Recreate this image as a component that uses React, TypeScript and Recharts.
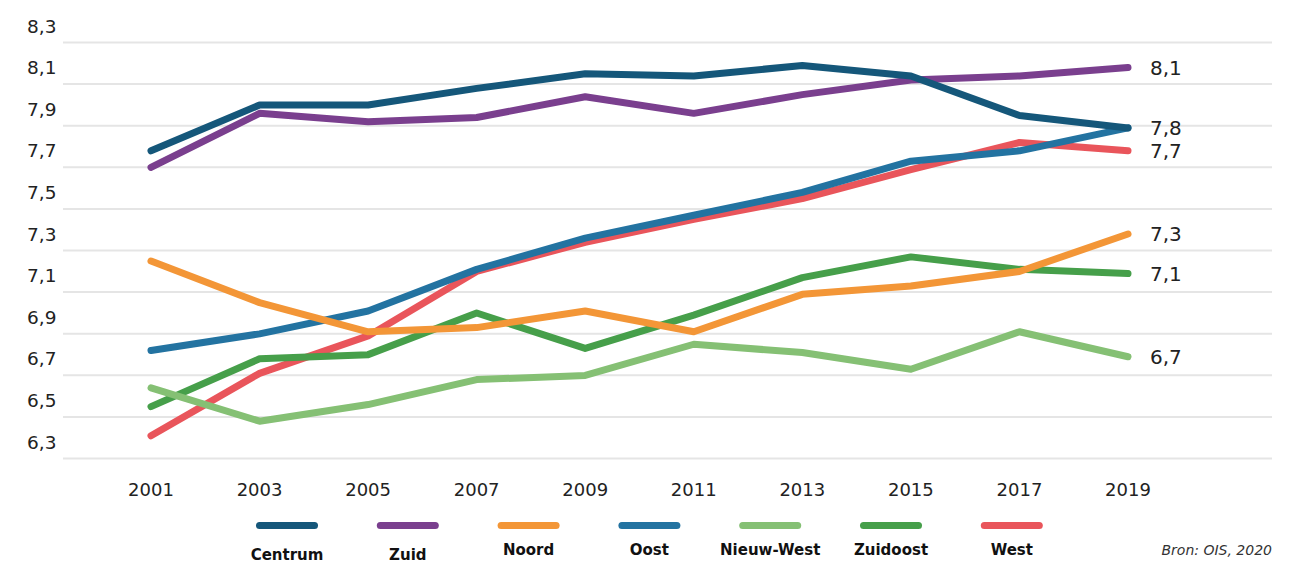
import React from 'react';
import { LineChart, Line, XAxis, YAxis, CartesianGrid } from 'recharts';

const years = ['2001', '2003', '2005', '2007', '2009', '2011', '2013', '2015', '2017', '2019'];

const centrum = [7.7, 7.92, 7.92, 8.0, 8.07, 8.06, 8.11, 8.06, 7.87, 7.81];
const zuid = [7.62, 7.88, 7.84, 7.86, 7.96, 7.88, 7.97, 8.04, 8.06, 8.1];
const noord = [7.17, 6.97, 6.83, 6.85, 6.93, 6.83, 7.01, 7.05, 7.12, 7.3];
const oost = [6.74, 6.82, 6.93, 7.13, 7.28, 7.39, 7.5, 7.65, 7.7, 7.81];
const nieuwWest = [6.56, 6.4, 6.48, 6.6, 6.62, 6.77, 6.73, 6.65, 6.83, 6.71];
const zuidoost = [6.47, 6.7, 6.72, 6.92, 6.75, 6.91, 7.09, 7.19, 7.13, 7.11];
const west = [6.33, 6.63, 6.81, 7.12, 7.26, 7.37, 7.47, 7.61, 7.74, 7.7];

const yTicks = [6.3, 6.5, 6.7, 6.9, 7.1, 7.3, 7.5, 7.7, 7.9, 8.1, 8.3];

// legend order; drawn in reverse so Centrum sits on top
const series = [
  { key: 'centrum', name: 'Centrum', values: centrum, color: '#15577a', endLabel: true },
  { key: 'zuid', name: 'Zuid', values: zuid, color: '#7a3f8e', endLabel: true },
  { key: 'noord', name: 'Noord', values: noord, color: '#f39637', endLabel: true },
  { key: 'oost', name: 'Oost', values: oost, color: '#2373a1', endLabel: false },
  { key: 'nieuwWest', name: 'Nieuw-West', values: nieuwWest, color: '#85c074', endLabel: true },
  { key: 'zuidoost', name: 'Zuidoost', values: zuidoost, color: '#469f4a', endLabel: true },
  { key: 'west', name: 'West', values: west, color: '#e9555b', endLabel: true },
];

const data = years.map((year, i) => {
  const row: any = { year };
  series.forEach((s) => {
    row[s.key] = s.values[i];
  });
  return row;
});

const FONT = '"DejaVu Sans", sans-serif';
const W = 1294;
const H = 563;
const GRID_SHIFT = 16.5;

const fmt = (v: number) => v.toFixed(1).replace('.', ',');

const YTick = ({ y, payload }: any) => (
  <text x={27} y={y} dominantBaseline="central" textAnchor="start" fontSize={18.5} fill="#222" fontFamily={FONT}>
    {fmt(payload.value)}
  </text>
);

const XTick = ({ x, y, payload }: any) => (
  <text x={x} y={y} dy={47} dominantBaseline="central" textAnchor="middle" fontSize={18} fill="#222" fontFamily={FONT}>
    {payload.value}
  </text>
);

const gridGen = (props: any) => {
  const scale = props?.yAxis?.scale;
  if (typeof scale === 'function') {
    return yTicks.map((t) => scale(t) + GRID_SHIFT);
  }
  const { top, height } = props.offset;
  return yTicks.map((t) => top + ((8.3 - t) / 2) * height + GRID_SHIFT);
};

const endLabel = (props: any) => {
  const { x, y, index, value } = props;
  if (index !== years.length - 1) return null;
  return (
    <text x={x + 22} y={y} dominantBaseline="central" fontSize={20} fill="#222" fontFamily={FONT}>
      {fmt(value)}
    </text>
  );
};

function LegendOverlay() {
  const start = 287;
  const step = 120.8;
  return (
    <svg width={W} height={H} style={{ position: 'absolute', left: 0, top: 0, pointerEvents: 'none' }}>
      {series.map((s, i) => {
        const cx = start + i * step;
        // the first two labels sit a little lower in the source
        const ly = i < 2 ? 555 : 550;
        return (
          <g key={s.key}>
            <rect x={cx - 31} y={522} width={62} height={7} rx={3.5} fill={s.color} />
            <text x={cx} y={ly} textAnchor="middle" dominantBaseline="central" fontSize={15} fontWeight="bold" fill="#111" fontFamily={FONT}>
              {s.name}
            </text>
          </g>
        );
      })}
      <text x={1272} y={550} textAnchor="end" dominantBaseline="central" fontSize={14} fontStyle="italic" fill="#333" fontFamily={FONT}>
        Bron: OIS, 2020
      </text>
    </svg>
  );
}

export default function App() {
  return (
    <div style={{ position: 'absolute', left: 0, top: 0, width: W, height: H, background: '#fff' }}>
      <LineChart width={W} height={H} data={data} margin={{ top: 26, right: 22, bottom: 61, left: 0 }}>
        <CartesianGrid vertical={false} stroke="#e5e5e5" strokeWidth={2} horizontalCoordinatesGenerator={gridGen} />
        <XAxis
          dataKey="year"
          height={60}
          padding={{ left: 88, right: 144 }}
          axisLine={false}
          tickLine={false}
          tickSize={0}
          tickMargin={0}
          interval={0}
          tick={<XTick />}
        />
        <YAxis
          width={63}
          domain={[6.3, 8.3]}
          ticks={yTicks}
          interval={0}
          axisLine={false}
          tickLine={false}
          tickSize={0}
          tickMargin={0}
          tick={<YTick />}
        />
        {[...series].reverse().map((s) => (
          <Line
            key={s.key}
            type="linear"
            dataKey={s.key}
            name={s.name}
            stroke={s.color}
            strokeWidth={7}
            strokeLinecap="round"
            strokeLinejoin="round"
            dot={false}
            activeDot={false}
            isAnimationActive={false}
            label={s.endLabel ? endLabel : undefined}
          />
        ))}
      </LineChart>
      <LegendOverlay />
    </div>
  );
}
